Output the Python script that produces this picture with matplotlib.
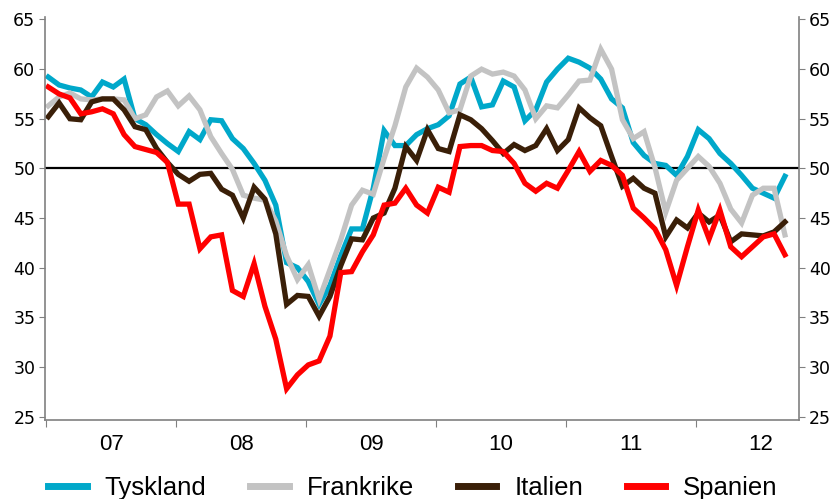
import matplotlib
matplotlib.use("Agg")
import matplotlib.pyplot as plt
from matplotlib.ticker import FixedLocator, NullFormatter, FixedFormatter

# Månadsdata jan 2007 - sep 2012 (PMI)
tyskland = [59.2, 58.4, 58.1, 57.9, 57.2, 58.7, 58.2, 59.0, 55.0, 54.4, 53.4, 52.5,
            51.7, 53.7, 52.9, 54.9, 54.8, 53.0, 52.0, 50.5, 48.8, 46.3, 40.5, 40.0,
            38.6, 36.3, 38.2, 41.2, 43.9, 43.9, 48.0, 53.8, 52.3, 52.3, 53.4, 54.0,
            54.4, 55.3, 58.5, 59.2, 56.2, 56.4, 58.8, 58.2, 54.8, 55.9, 58.7, 60.0,
            61.1, 60.7, 60.1, 59.0, 57.0, 56.1, 52.6, 51.3, 50.5, 50.3, 49.3, 51.2,
            53.9, 53.0, 51.5, 50.5, 49.3, 48.0, 47.5, 47.0, 49.2]
frankrike = [56.3, 57.2, 57.6, 57.0, 56.9, 57.0, 57.0, 56.9, 55.0, 55.4, 57.2, 57.8,
             56.3, 57.3, 55.9, 53.2, 51.5, 49.9, 47.3, 47.0, 46.8, 44.7, 41.2, 38.8,
             40.3, 36.8, 39.8, 42.8, 46.3, 47.8, 47.4, 51.0, 54.3, 58.2, 60.1, 59.2,
             57.9, 55.6, 55.9, 59.3, 60.0, 59.5, 59.7, 59.3, 57.9, 55.0, 56.3, 56.1,
             57.4, 58.8, 58.9, 62.0, 60.0, 54.9, 53.0, 53.7, 50.1, 45.6, 48.8, 50.0,
             51.2, 50.2, 48.5, 45.9, 44.5, 47.3, 48.0, 48.0, 43.3]
italien = [55.2, 56.6, 55.0, 54.9, 56.7, 57.0, 57.0, 55.9, 54.2, 53.9, 52.0, 50.6,
           49.4, 48.7, 49.4, 49.5, 47.9, 47.3, 45.0, 48.1, 46.9, 43.4, 36.3, 37.2,
           37.1, 35.1, 37.1, 40.2, 42.9, 42.8, 45.0, 45.5, 48.0, 52.2, 50.8, 53.9,
           52.0, 51.7, 55.4, 54.9, 54.0, 52.8, 51.5, 52.4, 51.8, 52.3, 54.0, 51.8,
           52.9, 56.1, 55.1, 54.3, 51.2, 48.2, 49.0, 48.0, 47.5, 43.1, 44.8, 44.0,
           45.5, 44.6, 45.3, 42.6, 43.4, 43.3, 43.2, 43.6, 44.6]
spanien = [58.2, 57.5, 57.1, 55.5, 55.7, 56.0, 55.5, 53.4, 52.2, 51.9, 51.6, 50.6,
           46.4, 46.4, 41.9, 43.1, 43.3, 37.7, 37.1, 40.4, 36.1, 32.8, 27.8, 29.2,
           30.2, 30.6, 33.1, 39.5, 39.6, 41.6, 43.3, 46.3, 46.5, 48.0, 46.3, 45.5,
           48.1, 47.6, 52.2, 52.3, 52.3, 51.8, 51.7, 50.5, 48.5, 47.7, 48.5, 48.0,
           49.8, 51.7, 49.7, 50.8, 50.3, 49.3, 46.0, 45.0, 43.9, 41.8, 38.2, 42.1,
           45.8, 42.9, 45.8, 42.1, 41.1, 42.1, 43.1, 43.4, 41.3]
ar = ["07", "08", "09", "10", "11", "12"]

namn = ["Tyskland", "Frankrike", "Italien", "Spanien"]
farger = ["#00A8CA", "#C3C3C3", "#3A1F08", "#FF0000"]
serier = [tyskland, frankrike, italien, spanien]

x = list(range(len(tyskland)))

fig = plt.figure(figsize=(8.4, 4.99), dpi=100)
ax = fig.add_axes([0.0536, 0.1583, 0.8976, 0.8076])

for s, n, c in zip(serier, namn, farger):
    ax.plot(x, s, color=c, lw=3.8, label=n, solid_joinstyle="miter")

ax.axhline(50, color="black", lw=1.6, zorder=1)

ax.set_xlim(-0.3, 69.3)
ax.set_ylim(24.65, 65.25)

# årsgränser som tickmarkeringar, årsetiketter mitt emellan
granser = [-0.2 + 12 * k for k in range(7)]
ax.xaxis.set_major_locator(FixedLocator(granser[:6]))
ax.xaxis.set_major_formatter(NullFormatter())
ax.xaxis.set_minor_locator(FixedLocator([g + 6 for g in granser[:6]]))
ax.xaxis.set_minor_formatter(FixedFormatter(ar))
ax.tick_params(axis="x", which="major", direction="out", length=5, color="#808080")
ax.tick_params(axis="x", which="minor", length=0, pad=10, labelsize=16)
for t in ax.xaxis.get_minorticklabels():
    t.set_family(["Liberation Sans", "DejaVu Sans"])

ax.set_yticks(range(25, 70, 5))
ax.tick_params(axis="y", direction="out", length=4, color="#808080",
               labelsize=12.5, left=True, right=True, labelleft=True, labelright=True, pad=3)

ax.spines["top"].set_visible(False)
for sp in ["left", "right", "bottom"]:
    ax.spines[sp].set_color("#808080")
    ax.spines[sp].set_linewidth(1.2)

leg = ax.legend(loc="center", bbox_to_anchor=(0.488, -0.168), ncol=4, frameon=False,
                prop={"family": ["Liberation Sans", "DejaVu Sans"], "size": 18.5},
                handlelength=1.5, handletextpad=0.7, columnspacing=1.7,
                borderpad=0.1)
for h in leg.get_lines():
    h.set_linewidth(5)

fig.savefig("out.png", dpi=100)
